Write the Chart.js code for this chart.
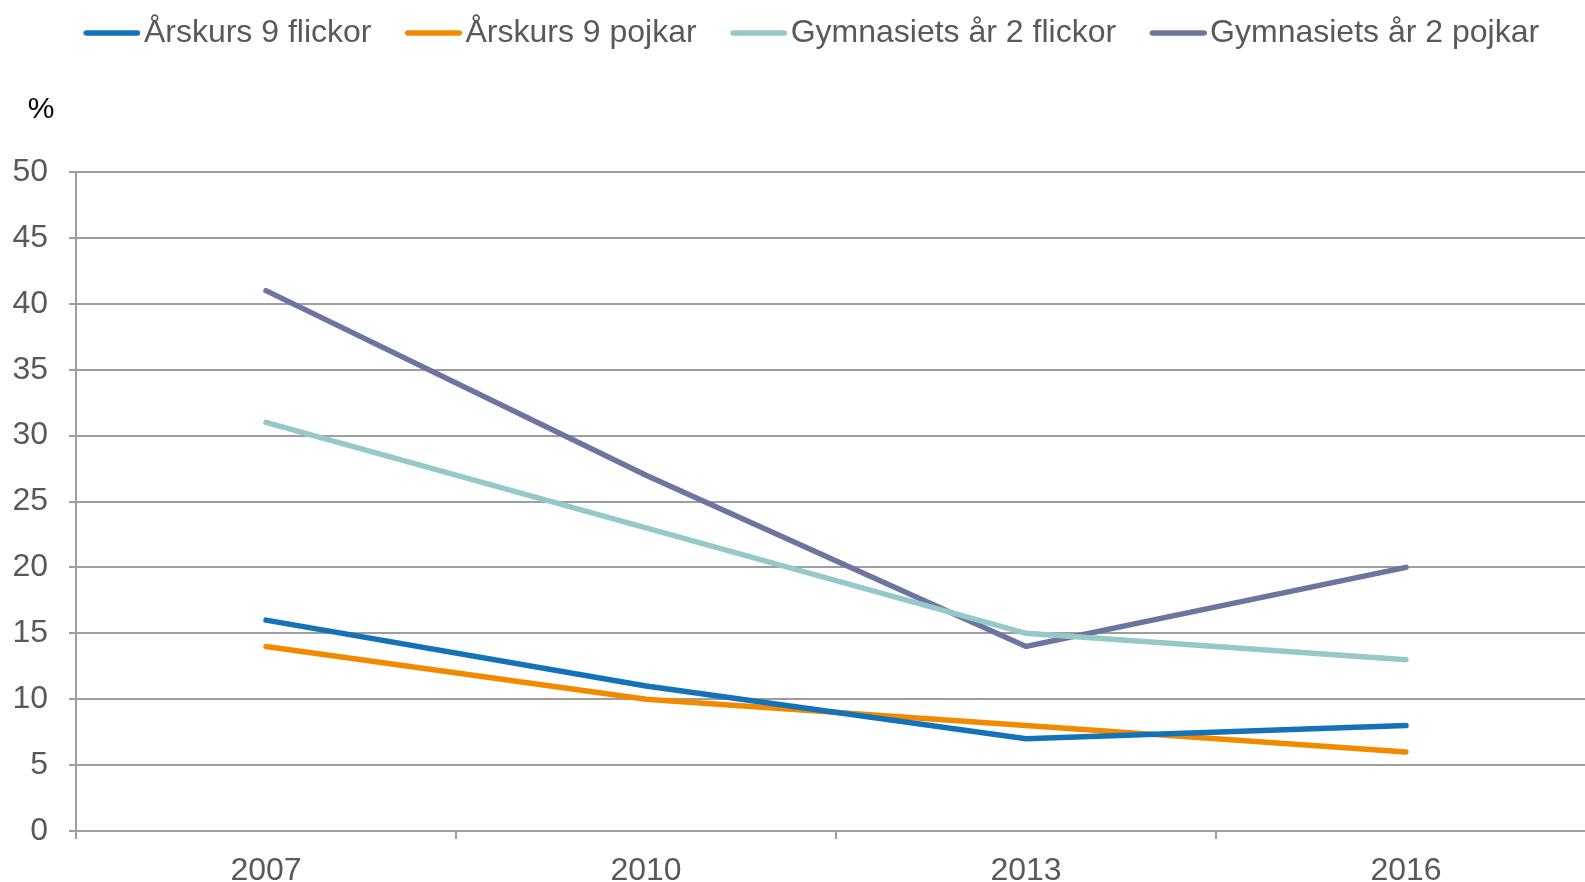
<!DOCTYPE html>
<html>
<head>
<meta charset="utf-8">
<script src="https://cdn.jsdelivr.net/npm/chart.js@4/dist/chart.umd.min.js"></script>
<style>
  html, body { margin: 0; padding: 0; overflow: hidden; background: #fff; }
  #wrap { width: 1600px; height: 882px; position: relative; }
</style>
</head>
<body>
<div id="wrap"><canvas id="c"></canvas></div>
<script>
const categories = ['2007', '2010', '2013', '2016'];
const seriesNames = ['Årskurs 9 flickor', 'Årskurs 9 pojkar', 'Gymnasiets år 2 flickor', 'Gymnasiets år 2 pojkar'];
const arskurs9Flickor = [16, 11, 7, 8];
const arskurs9Pojkar = [14, 10, 8, 6];
const gymnFlickor = [31, 23, 15, 13];
const gymnPojkar = [41, 27, 14, 20];
const seriesColors = ['#1372B8', '#F28A00', '#97C8C8', '#6B75A0'];
const yTicks = [0, 5, 10, 15, 20, 25, 30, 35, 40, 45, 50];
const unitLabel = '%';

const FONT = '"Liberation Sans", Arial, sans-serif';
const TEXT = '#595959';
const GRID = '#9e9e9e';

function legendKey(color) {
  const c = document.createElement('canvas');
  c.width = 96; c.height = 10;
  const g = c.getContext('2d');
  g.strokeStyle = color; g.lineWidth = 5.5; g.lineCap = 'round';
  g.beginPath(); g.moveTo(41.75, 5); g.lineTo(93.25, 5); g.stroke();
  return c;
}
const keys = seriesColors.map(legendKey);

const values = [arskurs9Flickor, arskurs9Pojkar, gymnFlickor, gymnPojkar];
const datasets = values.map((v, i) => ({
  label: seriesNames[i],
  data: v,
  borderColor: seriesColors[i],
  backgroundColor: seriesColors[i],
  borderWidth: 5.5,
  borderCapStyle: 'round',
  borderJoinStyle: 'miter',
  pointRadius: 0,
  pointHoverRadius: 0,
  tension: 0,
  fill: false
}));

const unitPlugin = {
  id: 'unitLabel',
  afterDraw(chart) {
    const { ctx, chartArea } = chart;
    ctx.save();
    ctx.font = '30px ' + FONT;
    ctx.fillStyle = '#000';
    ctx.textAlign = 'center';
    ctx.textBaseline = 'middle';
    ctx.fillText(unitLabel, chartArea.left - 35, chartArea.top - 62);
    ctx.restore();
  }
};
const legendSpacer = {
  id: 'legendSpacer',
  afterInit(chart) {
    const orig = chart.legend.fit;
    chart.legend.fit = function () { orig.call(this); this.height += 113; };
  }
};

new Chart(document.getElementById('c'), {
  type: 'line',
  data: { labels: categories, datasets },
  plugins: [unitPlugin, legendSpacer],
  options: {
    responsive: true,
    maintainAspectRatio: false,
    animation: false,
    layout: { padding: { top: 10, left: 0, right: 4, bottom: 0 } },
    plugins: {
      tooltip: { enabled: false },
      legend: {
        position: 'top',
        labels: {
          usePointStyle: true,
          pointStyleWidth: 71,
          padding: 7,
          color: TEXT,
          font: { family: FONT, size: 32 },
          generateLabels(chart) {
            const items = Chart.defaults.plugins.legend.labels.generateLabels(chart);
            items.forEach((it, i) => { it.pointStyle = keys[i]; });
            return items;
          }
        }
      }
    },
    scales: {
      x: {
        offset: true,
        afterFit(s) { s.height = 51; },
        grid: { offset: true, drawOnChartArea: false, drawTicks: true, tickLength: 8, color: GRID, lineWidth: 2 },
        border: { display: true, color: GRID, width: 2 },
        ticks: { color: TEXT, font: { family: FONT, size: 32 }, padding: 13, maxRotation: 0 }
      },
      y: {
        min: 0, max: 50,
        afterFit(s) { s.width = 76; },
        afterBuildTicks(s) { s.ticks = yTicks.map(v => ({ value: v })); },
        grid: { color: GRID, lineWidth: 2, tickLength: 7, drawTicks: true },
        border: { display: true, color: GRID, width: 2 },
        ticks: { color: TEXT, font: { family: FONT, size: 32 }, padding: 21 }
      }
    }
  }
});
</script>
</body>
</html>
